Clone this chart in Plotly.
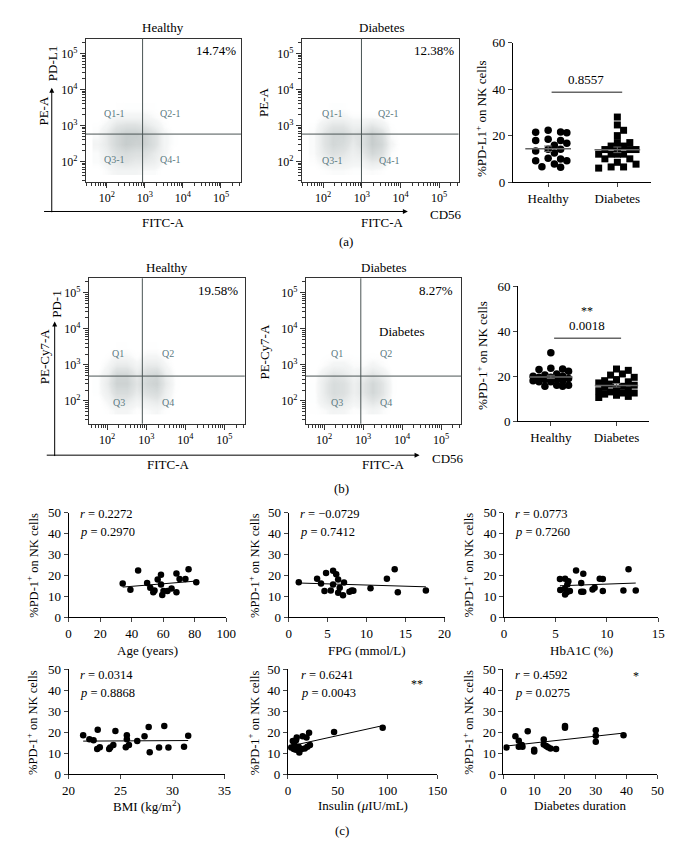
import numpy as np
import plotly.graph_objects as go

W, H = 675, 857
FONT = "Liberation Serif"

# ------------------------------------------------------------------ data
# flow cytometry: approximate event density (log10 units)
flow_dec_x = [1.75, 2.0, 2.25, 2.5, 2.75, 3.0, 3.25, 3.5, 3.75, 4.0]
flow_dec_y = [1.75, 2.0, 2.25, 2.5, 2.75, 3.0, 3.25, 3.5]
density_a_healthy = [
    [0, 0.5, 1, 1, 1, 0.5, 0.5, 0, 0, 0],
    [0.5, 1, 2, 2.5, 2, 2, 1.5, 0.5, 0, 0],
    [0.5, 1.5, 3, 3.5, 3, 3, 2, 1, 0, 0],
    [1, 2, 4, 5, 4.5, 4.5, 3, 1, 0.3, 0],
    [0.5, 2, 4, 5, 5, 4.5, 3, 1, 0.3, 0],
    [0.3, 1, 2.5, 3, 3, 2.5, 1.5, 0.5, 0, 0],
    [0, 0.3, 1, 1, 1, 1, 0.5, 0.2, 0, 0],
    [0, 0, 0.2, 0.3, 0.3, 0.3, 0.2, 0, 0, 0],
]
density_a_diabetes = [
    [0, 0.3, 0.5, 0.5, 0.3, 0.3, 0.5, 0.3, 0, 0],
    [0.3, 1, 1.5, 1.5, 1, 1, 2, 1.5, 0.3, 0],
    [0.5, 2, 3, 2.5, 1.5, 2, 4, 3, 0.5, 0],
    [0.5, 2.5, 4, 3.5, 2, 3, 5, 4, 1, 0],
    [0.5, 2.5, 4, 4, 2.5, 3, 5, 3.5, 0.5, 0],
    [0.3, 1.5, 2.5, 2.5, 1.5, 1.5, 2.5, 1.5, 0.3, 0],
    [0, 0.5, 1, 1, 0.5, 0.5, 0.5, 0.3, 0, 0],
    [0, 0, 0.3, 0.3, 0, 0, 0, 0, 0, 0],
]
density_b_healthy = [
    [0, 0.3, 0.8, 0.8, 0.3, 0.5, 0.8, 0.3, 0, 0],
    [0, 0.8, 2, 2, 1, 1.5, 2, 1, 0, 0],
    [0.3, 1.5, 3.5, 3.5, 2, 3, 3.5, 1.5, 0.2, 0],
    [0.3, 2, 4.5, 4.5, 2.5, 4, 4.5, 2, 0.3, 0],
    [0.3, 1.5, 4, 4, 2, 3.5, 4, 1.5, 0.2, 0],
    [0, 0.8, 2, 2, 1, 2, 2, 0.8, 0, 0],
    [0, 0.3, 0.8, 0.8, 0.3, 0.8, 0.8, 0.3, 0, 0],
    [0, 0, 0.2, 0.2, 0, 0.2, 0.2, 0, 0, 0],
]
density_b_diabetes = [
    [0.2, 0.5, 1, 0.8, 0.3, 0.5, 1, 0.5, 0, 0],
    [0.3, 1.5, 2.5, 2, 1, 1.5, 2.5, 1.5, 0.2, 0],
    [0.3, 2, 3.5, 3, 1.5, 2.5, 4, 2.5, 0.3, 0],
    [0.3, 2, 3.5, 3, 1.5, 2.5, 4, 2.5, 0.3, 0],
    [0.2, 1.5, 2.5, 2, 1, 1.5, 2.5, 1.5, 0.2, 0],
    [0, 0.5, 1, 1, 0.5, 0.5, 1, 0.5, 0, 0],
    [0, 0.2, 0.3, 0.3, 0.2, 0.2, 0.3, 0.2, 0, 0],
    [0, 0, 0, 0, 0, 0, 0, 0, 0, 0],
]
gate_x = [2.94, 2.99, 2.90, 2.94]   # log10 gate positions per flow plot
gate_y = [2.76, 2.76, 2.69, 2.69]
flow_titles = ["Healthy", "Diabetes", "Healthy", "Diabetes"]
flow_pct = ["14.74%", "12.38%", "19.58%", "8.27%"]
quad_a = ["Q1-1", "Q2-1", "Q3-1", "Q4-1"]
quad_b = ["Q1", "Q2", "Q3", "Q4"]
flow_ticktext = ["10<sup>2</sup>", "10<sup>3</sup>", "10<sup>4</sup>", "10<sup>5</sup>"]
flow_tickvals = [2, 3, 4, 5]

groups = ["Healthy", "Diabetes"]
pdl1_healthy = [22.3, 21.5, 21.2, 21.6, 17.9, 17.9, 18.4, 15.8, 16.7, 14.1,
                13.4, 14.1, 12.5, 9.9, 9.2, 9.2, 10.2, 7.8, 6.4, 6.6]
pdl1_diabetes = [28.0, 24.6, 22.3, 20.0, 17.0, 17.0, 15.5, 15.5, 14.0, 14.0,
                 14.0, 14.0, 12.0, 12.0, 12.0, 12.0, 10.0, 10.0, 8.5, 7.7,
                 6.5, 6.5, 6.0]
pdl1_pvalue = "0.8557"
pd1_healthy = [30.5, 23.5, 23.2, 23.0, 22.2, 21.0, 20.5, 20.0, 20.0, 19.5,
               19.5, 19.0, 18.5, 18.0, 17.5, 18.0, 18.5, 17.5, 16.0, 15.5,
               16.0, 15.5]
pd1_diabetes = [23.2, 22.6, 21.0, 20.5, 19.5, 18.5, 18.0, 17.5, 17.0, 16.5,
                16.0, 15.5, 15.0, 14.5, 14.0, 13.5, 13.0, 12.5, 12.5, 12.0,
                11.5, 11.0, 10.5]
pd1_pvalue = "0.0018"

age = [34.3, 39.2, 44.1, 49.8, 51.8, 53.7, 54.5, 56.5, 58.6, 58.6,
       59.4, 60.2, 62.7, 65.3, 68.4, 68.4, 70.4, 74.1, 76.1, 81.0]
pd1_age = [16.1, 13.1, 22.3, 16.4, 14.1, 12.0, 12.8, 18.1, 20.3, 15.6,
           10.6, 12.5, 12.5, 13.8, 20.9, 12.0, 18.3, 18.3, 23.0, 16.7]
fpg = [1.3, 3.65, 4.15, 4.6, 4.8, 5.4, 5.7, 5.7, 6.1, 6.35, 6.35,
       6.55, 6.97, 7.1, 7.8, 8.1, 8.3, 10.5, 12.6, 13.6, 14.0, 17.6]
pd1_fpg = [16.7, 18.4, 16.1, 12.5, 21.1, 12.8, 22.2, 15.6, 20.6, 18.0, 11.7,
           14.1, 10.5, 16.6, 12.2, 12.8, 12.7, 13.9, 18.4, 23.0, 12.0, 12.8]
hba1c = [5.43, 5.46, 5.9, 5.93, 5.93, 6.1, 6.15, 6.25, 6.4, 7.0, 7.5,
         7.5, 7.7, 7.7, 8.6, 8.8, 9.3, 9.6, 9.6, 11.6, 12.1, 12.8]
pd1_hba1c = [18.3, 13.0, 13.6, 18.4, 10.9, 12.0, 15.6, 17.2, 12.5, 22.3, 16.4,
             12.2, 20.8, 12.2, 13.3, 14.1, 18.4, 18.3, 12.5, 12.8, 23.0, 12.8]
bmi = [21.4, 22.0, 22.4, 22.8, 22.75, 23.0, 23.9, 24.0, 24.3, 24.5, 25.6, 25.6,
       25.5, 25.8, 26.6, 27.3, 27.7, 27.8, 28.7, 29.2, 29.6, 31.1, 31.5]
pd1_bmi = [18.7, 16.8, 16.3, 21.3, 12.1, 12.9, 12.1, 12.8, 14.0, 20.7, 18.7, 16.8,
           12.9, 14.0, 15.9, 18.2, 22.6, 10.6, 12.8, 23.0, 12.8, 13.2, 18.4]
insulin = [3.3, 4.9, 5.9, 6.5, 8.1, 8.8, 8.1, 10.7, 11.4, 13.7, 14.7, 16.9,
           18.6, 19.5, 21.2, 22.1, 46.3, 95.1]
pd1_insulin = [12.8, 15.9, 12.1, 14.0, 16.3, 17.6, 11.7, 13.2, 10.4, 12.1, 18.2,
               12.4, 17.6, 13.2, 19.9, 14.0, 20.2, 22.2]
duration = [1.0, 3.9, 5.0, 5.0, 6.0, 6.2, 7.9, 10.0, 10.0, 13.1, 13.1, 13.9,
            14.5, 15.3, 17.1, 20.0, 20.0, 30.0, 30.0, 30.0, 39.0]
pd1_duration = [12.8, 18.2, 16.0, 13.2, 14.0, 13.2, 20.5, 11.7, 10.9, 16.6, 14.3,
                13.5, 12.9, 12.4, 12.1, 23.0, 22.2, 21.0, 18.4, 15.6, 18.7]

corr_x = [age, fpg, hba1c, bmi, insulin, duration]
corr_y = [pd1_age, pd1_fpg, pd1_hba1c, pd1_bmi, pd1_insulin, pd1_duration]
corr_xtitle = ["Age (years)", "FPG (mmol/L)", "HbA1C (%)",
               "BMI (kg/m<sup>2</sup>)", "Insulin (<i>\u03bc</i>IU/mL)", "Diabetes duration"]
corr_r = ["0.2272", "\u22120.0729", "0.0773", "0.0314", "0.6241", "0.4592"]
corr_p = ["0.2970", "0.7412", "0.7260", "0.8868", "0.0043", "0.0275"]
corr_sig = ["", "", "", "", "**", "*"]
corr_xrange = [[0, 100], [0, 20], [0, 15], [20, 35], [0, 150], [0, 50]]
corr_dtick = [20, 5, 5, 5, 50, 10]

# ------------------------------------------------------------------ helpers
def xd(l, r):
    return [l / W, r / W]

def yd(t, b):
    return [1 - b / H, 1 - t / H]

def px(x):
    return x / W

def py(y):
    return 1 - y / H

annotations = []
shapes = []

def ann(text, x, y, size=12, angle=0, xanchor="center", color="black", yanchor="middle"):
    annotations.append(dict(text=text, x=px(x), y=py(y), xref="paper", yref="paper",
                            showarrow=False, textangle=angle, xanchor=xanchor,
                            yanchor=yanchor, font=dict(family=FONT, size=size, color=color)))

def arrow(xt, yt, xs, ys):
    annotations.append(dict(text="", x=px(xt), y=py(yt), xref="paper", yref="paper",
                            ax=xs - xt, ay=ys - yt, axref="pixel", ayref="pixel",
                            showarrow=True, arrowhead=2, arrowsize=1, arrowwidth=1,
                            arrowcolor="black", standoff=0, startstandoff=0))

fig = go.Figure()
layout = dict(width=W, height=H, margin=dict(l=0, r=0, t=0, b=0), autosize=False,
              paper_bgcolor="white", plot_bgcolor="white", showlegend=False,
              font=dict(family=FONT, size=12, color="black"))

minor_vals = [float(np.log10(k * 10 ** n)) for n in range(1, 6) for k in range(2, 10)]

# ------------------------------------------------------------------ flow plots
flow_geo = [  # (x domain px, y domain px, xrange, yrange)
    ((72.7, 232.0), (24, 170), [1.45, 5.53], [1.43, 5.41]),
    ((294.3, 455.0), (24, 170), [1.45, 5.50], [1.43, 5.41]),
    ((75.7, 235.7), (268, 416), [1.53, 5.52], [1.37, 5.40]),
    ((298.3, 458.0), (268, 416), [1.53, 5.52], [1.37, 5.40]),
]
densities = [density_a_healthy, density_a_diabetes, density_b_healthy, density_b_diabetes]
cloud_scale = [[0, "rgba(255,255,255,0)"], [0.15, "rgba(225,229,229,0.35)"],
               [0.5, "rgba(200,206,206,0.55)"], [1, "rgba(175,183,183,0.7)"]]

for i in range(4):
    n = i + 1
    xa, ya = ("x%d" % n if n > 1 else "x"), ("y%d" % n if n > 1 else "y")
    (xl, xr), (yt, yb), xrng, yrng = flow_geo[i]
    axstyle = dict(showline=True, mirror=True, linecolor="#333", linewidth=1,
                   showgrid=False, zeroline=False, ticks="outside", ticklen=5,
                   tickcolor="#333", tickvals=flow_tickvals, ticktext=flow_ticktext,
                   tickfont=dict(family=FONT, size=12),
                   minor=dict(tickmode="array", tickvals=minor_vals, ticklen=3,
                              ticks="outside", tickcolor="#333"))
    layout["xaxis%s" % ("" if n == 1 else n)] = dict(axstyle, domain=xd(xl, xr), range=xrng,
                                                      anchor=ya)
    layout["yaxis%s" % ("" if n == 1 else n)] = dict(axstyle, domain=yd(yt, yb), range=yrng,
                                                      anchor=xa)
    fig.add_trace(go.Heatmap(x=flow_dec_x, y=flow_dec_y, z=densities[i], zsmooth="best",
                             colorscale=cloud_scale, zmin=0, zmax=5, showscale=False,
                             hoverinfo="skip", xaxis=xa, yaxis=ya))
    shapes.append(dict(type="line", xref=xa, yref=ya + " domain", x0=gate_x[i], x1=gate_x[i],
                       y0=0, y1=1, line=dict(color="#4a5555", width=1), layer="above"))
    shapes.append(dict(type="line", xref=xa + " domain", yref=ya, x0=0, x1=1,
                       y0=gate_y[i], y1=gate_y[i], line=dict(color="#4a5555", width=1),
                       layer="above"))

qcol = "#5d7b82"
# (a)
ann(flow_titles[0], 152, 13, size=13)
ann(flow_titles[1], 376, 13, size=13)
ann(flow_pct[0], 206, 36, size=13)
ann(flow_pct[1], 430, 36, size=13)
for (qx, qy), t in zip([(102, 100), (160, 100), (102, 147), (160, 147)], quad_a):
    ann(t, qx, qy, size=10, color=qcol)
for (qx, qy), t in zip([(326, 100), (383, 100), (326, 148), (384, 148)], quad_a):
    ann(t, qx, qy, size=10, color=qcol)
ann("PE-A", 29, 97, size=13, angle=-90)
ann("PE-A", 255, 89, size=13, angle=-90)
ann("PD-L1", 38, 50, size=13, angle=-90)
ann("FITC-A", 152, 211, size=13)
ann("FITC-A", 377, 211, size=13)
ann("CD56", 424, 203, size=13, xanchor="left")
arrow(37.7, 74, 37.7, 200)
arrow(403, 200, 37.7, 200)
ann("(a)", 340, 231, size=13)
# (b)
ann(flow_titles[2], 156, 257, size=13)
ann(flow_titles[3], 378, 257, size=13)
ann(flow_pct[2], 208, 280, size=13)
ann(flow_pct[3], 432, 280, size=13)
for (qx, qy), t in zip([(106, 345), (157, 345), (107, 394), (157, 394)], quad_b):
    ann(t, qx, qy, size=10, color=qcol)
for (qx, qy), t in zip([(330, 345), (381, 345), (330, 394), (381, 394)], quad_b):
    ann(t, qx, qy, size=10, color=qcol)
ann("Diabetes", 396, 322, size=13)
ann("PE-Cy7-A", 31, 347, size=13, angle=-90)
ann("PE-Cy7-A", 256, 343, size=13, angle=-90)
ann("PD-1", 43, 294, size=13, angle=-90)
ann("FITC-A", 157, 458, size=13)
ann("FITC-A", 378, 458, size=13)
ann("CD56", 426, 451, size=13, xanchor="left")
arrow(40.7, 312, 40.7, 448)
arrow(415, 448, 40.7, 448)
ann("(b)", 335, 482, size=13)

# ------------------------------------------------------------------ dot plots
def swarm(vals, center, kx, ky, diam=7.0, step=0.09, maxoff=0.28):
    """Greedy beeswarm: place each value at the nearest free horizontal slot."""
    vals = np.asarray(vals, dtype=float)
    order = np.argsort(-vals)
    cands = [0.0]
    s = step
    while s <= maxoff + 1e-9:
        cands += [s, -s]
        s += step
    placed = []
    xs = np.zeros(len(vals))
    for i in order:
        best_c, best_d = 0.0, -1.0
        for c in cands:
            if placed:
                d = min(np.hypot((c - pc) * kx, (vals[i] - pv) * ky) for pc, pv in placed)
            else:
                d = 1e9
            if d >= diam:
                best_c, best_d = c, d
                break
            if d > best_d:
                best_c, best_d = c, d
        placed.append((best_c, vals[i]))
        xs[i] = center + best_c
    return xs

dot_geo = [((510.7, 652.7), (28.3, 170), [-0.51, 1.49]),
           ((516, 650.7), (276.3, 413.3), [-0.50, 1.50])]
dot_data = [(pdl1_healthy, pdl1_diabetes), (pd1_healthy, pd1_diabetes)]
dot_ytitle = ["%PD-L1<sup>+</sup> on NK cells", "%PD-1<sup>+</sup> on NK cells"]
dot_title_pos = [(478, 105), (479, 346)]
dot_p = [pdl1_pvalue, pd1_pvalue]
dot_bracket = [38.7, 36.9]
for k in range(2):
    n = 5 + k
    xa, ya = "x%d" % n, "y%d" % n
    (xl, xr), (yt, yb), xrng = dot_geo[k]
    kx = (xr - xl) / (xrng[1] - xrng[0])
    ky = (yb - yt) / 60.0
    layout["xaxis%d" % n] = dict(domain=xd(xl, xr), range=xrng, anchor=ya, tickvals=[0, 1],
                                 ticktext=groups, showline=True, linecolor="black",
                                 ticks="outside", ticklen=4, showgrid=False, zeroline=False,
                                 tickfont=dict(family=FONT, size=13))
    layout["yaxis%d" % n] = dict(domain=yd(yt, yb), range=[0, 60], anchor=xa,
                                 tickvals=[0, 20, 40, 60], showline=True, linecolor="black",
                                 ticks="outside", ticklen=4, showgrid=False, zeroline=False,
                                 tickfont=dict(family=FONT, size=13))
    for g, (vals, sym) in enumerate(zip(dot_data[k], ["circle", "square"])):
        xs = swarm(vals, g, kx, ky)
        fig.add_trace(go.Scatter(x=xs, y=vals, mode="markers", xaxis=xa, yaxis=ya,
                                 marker=dict(symbol=sym, size=7.5 if sym == "circle" else 7,
                                             color="black"), cliponaxis=False,
                                 hoverinfo="skip"))
        m = float(np.mean(vals))
        sem = float(np.std(vals, ddof=1) / np.sqrt(len(vals)))
        fig.add_trace(go.Scatter(x=[g - 0.33, g + 0.33], y=[m, m], mode="lines",
                                 xaxis=xa, yaxis=ya, line=dict(color="#666", width=1.5),
                                 hoverinfo="skip"))
        fig.add_trace(go.Scatter(x=[g], y=[m], mode="markers", xaxis=xa, yaxis=ya,
                                 marker=dict(size=1, color="#666"),
                                 error_y=dict(type="constant", value=sem, color="#666",
                                              thickness=1, width=4),
                                 hoverinfo="skip"))
    shapes.append(dict(type="line", xref=xa, yref=ya, x0=0.05, x1=1.07,
                       y0=dot_bracket[k], y1=dot_bracket[k],
                       line=dict(color="#666", width=1.5)))
    annotations.append(dict(text=dot_p[k], x=0.55, y=dot_bracket[k] + 1.5, xref=xa, yref=ya,
                            showarrow=False, yanchor="bottom",
                            font=dict(family=FONT, size=13)))
    if k == 1:
        annotations.append(dict(text="**", x=0.55, y=dot_bracket[k] + 8.0, xref=xa, yref=ya,
                                showarrow=False, yanchor="bottom",
                                font=dict(family=FONT, size=12, color="black")))
    ann(dot_ytitle[k], dot_title_pos[k][0], dot_title_pos[k][1], size=13, angle=-90)

# ------------------------------------------------------------------ correlation panels
corr_geo = [((55, 216.7), (506.5, 613)), ((280.7, 440.7), (506.5, 613)),
            ((501.7, 660), (506.5, 613)), ((55, 215), (666, 773)),
            ((280, 433.3), (666, 773)), ((501, 659), (666, 773))]
corr_ycenter = [560, 560, 560, 720, 720, 720]
corr_ytx = [18, 245, 465, 18, 245, 465]
corr_xtitle_y = [647, 647, 647, 805, 805, 805]
corr_text_x = [65, 290, 511, 65, 291, 511]
corr_text_y = [508, 508, 508, 672, 672, 672]
corr_sig_pos = [None, None, None, None, (412, 681), (637, 673)]
for k in range(6):
    n = 7 + k
    xa, ya = "x%d" % n, "y%d" % n
    (xl, xr), (yt, yb) = corr_geo[k]
    layout["xaxis%d" % n] = dict(domain=xd(xl, xr), range=corr_xrange[k], anchor=ya,
                                 dtick=corr_dtick[k], tick0=corr_xrange[k][0], showline=True,
                                 linecolor="black", ticks="outside", ticklen=4,
                                 showgrid=False, zeroline=False,
                                 tickfont=dict(family=FONT, size=13))
    layout["yaxis%d" % n] = dict(domain=yd(yt, yb), range=[0, 50], anchor=xa, dtick=10,
                                 showline=True, linecolor="black", ticks="outside",
                                 ticklen=4, showgrid=False, zeroline=False,
                                 tickfont=dict(family=FONT, size=13))
    xv = np.asarray(corr_x[k], dtype=float)
    yv = np.asarray(corr_y[k], dtype=float)
    slope, icpt = np.polyfit(xv, yv, 1)
    xl_ = np.array([xv.min(), xv.max()])
    fig.add_trace(go.Scatter(x=xl_, y=slope * xl_ + icpt, mode="lines", xaxis=xa, yaxis=ya,
                             line=dict(color="black", width=1), hoverinfo="skip"))
    fig.add_trace(go.Scatter(x=xv, y=yv, mode="markers", xaxis=xa, yaxis=ya,
                             marker=dict(size=6.5, color="black"), hoverinfo="skip"))
    ann("%PD-1<sup>+</sup> on NK cells", corr_ytx[k], corr_ycenter[k], size=12.5, angle=-90)
    ann(corr_xtitle[k], (xl + xr) / 2, corr_xtitle_y[k], size=13)
    ann("<i>r</i> = " + corr_r[k], corr_text_x[k], corr_text_y[k], size=12.5, xanchor="left")
    ann("<i>p</i> = " + corr_p[k], corr_text_x[k], corr_text_y[k] + 18, size=12.5,
        xanchor="left")
    if corr_sig_pos[k]:
        ann(corr_sig[k], corr_sig_pos[k][0], corr_sig_pos[k][1], size=12, color="black")
ann("(c)", 335, 830, size=13)

layout["annotations"] = annotations
layout["shapes"] = shapes
fig.update_layout(**layout)
fig.write_html("out.html")
